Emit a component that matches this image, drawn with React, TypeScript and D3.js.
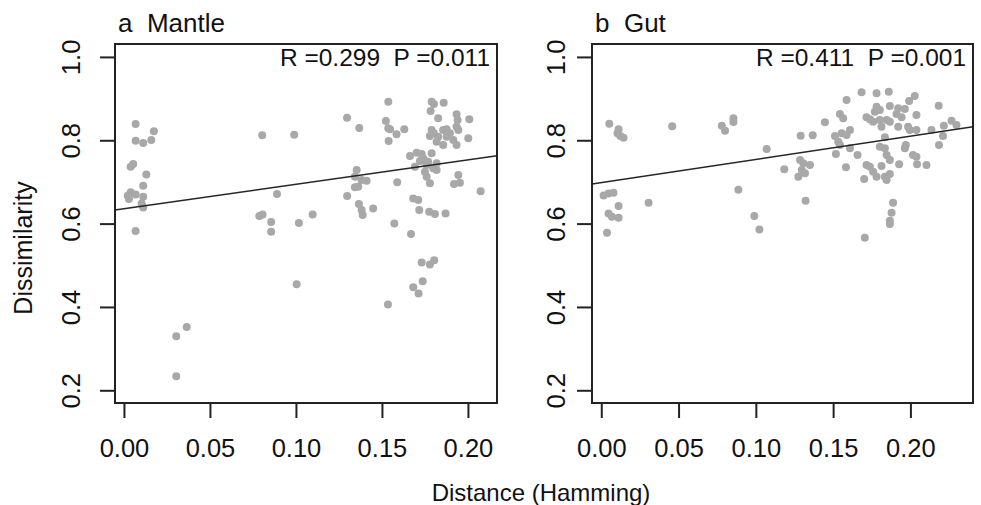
import * as d3 from "d3";
import { useRef, useEffect } from "react";

// axis ticks
const xTicks = [0, 0.05, 0.1, 0.15, 0.2];
const yTicks = [0.2, 0.4, 0.6, 0.8, 1.0];

// panel a: mantle
const mantleDistance = [
  0.0068, 0.0174, 0.0068, 0.0112, 0.0159, 0.0054, 0.0039, 0.013, 0.0112, 0.0039,
  0.0022, 0.0029, 0.0068, 0.0112, 0.0103, 0.0112, 0.0068, 0.0804, 0.099, 0.089,
  0.0787, 0.0806, 0.0856, 0.0856, 0.1017, 0.1004, 0.0304, 0.0365, 0.0304, 0.1537,
  0.1297, 0.1368, 0.1523, 0.1537, 0.1547, 0.1585, 0.163, 0.1539, 0.1789, 0.1802,
  0.1783, 0.1859, 0.1827, 0.1934, 0.194, 0.2008, 0.1789, 0.1802, 0.1779, 0.1827,
  0.1856, 0.1876, 0.1895, 0.1934, 0.1944, 0.1876, 0.1915, 0.1856, 0.1818, 0.1934,
  0.2002, 0.1663, 0.1702, 0.1731, 0.174, 0.1721, 0.175, 0.1769, 0.1789, 0.1818,
  0.176, 0.1692, 0.1798, 0.1818, 0.175, 0.176, 0.1779, 0.1353, 0.1343, 0.1382,
  0.1411, 0.1362, 0.1343, 0.1589, 0.1944, 0.1953, 0.1919, 0.1298, 0.2074, 0.1366,
  0.1382, 0.1388, 0.1449, 0.1682, 0.1711, 0.1717, 0.1775, 0.1808, 0.187, 0.1097,
  0.1572, 0.1669, 0.1731, 0.1779, 0.1804, 0.1737, 0.1682, 0.1713, 0.1535,
];
const mantleDissimilarity = [
  0.839, 0.8215, 0.799, 0.7934, 0.8006, 0.743, 0.7365, 0.718, 0.691, 0.675,
  0.6668, 0.6589, 0.67, 0.6644, 0.6485, 0.6389, 0.582, 0.8119, 0.8133, 0.6709,
  0.618, 0.622, 0.6036, 0.5803, 0.6012, 0.4547, 0.3297, 0.352, 0.2336, 0.8926,
  0.8542, 0.8294, 0.8462, 0.8287, 0.8263, 0.8143, 0.8263, 0.7982, 0.8926, 0.8871,
  0.8703, 0.8902, 0.8527, 0.8623, 0.8486, 0.8503, 0.8246, 0.8167, 0.8102, 0.8085,
  0.8246, 0.8263, 0.8167, 0.8326, 0.8246, 0.8085, 0.8006, 0.7886, 0.7965, 0.7886,
  0.8047, 0.7622, 0.7701, 0.767, 0.7566, 0.7502, 0.7509, 0.7485, 0.7686, 0.7446,
  0.7405, 0.7365, 0.7326, 0.7285, 0.7244, 0.7124, 0.6966, 0.7285, 0.7124, 0.7045,
  0.7028, 0.6884, 0.687, 0.699, 0.7165, 0.698, 0.6949, 0.6661, 0.6774, 0.6468,
  0.6324, 0.6204, 0.6365, 0.6605, 0.6565, 0.6324, 0.6283, 0.6228, 0.6245, 0.6221,
  0.6005, 0.5748, 0.5068, 0.502, 0.5123, 0.4619, 0.4474, 0.4323, 0.4059,
];

// panel b: gut
const gutDistance = [
  0.0052, 0.0112, 0.0105, 0.0123, 0.0144, 0.0459, 0.078, 0.0801, 0.0855, 0.0855,
  0.107, 0.0887, 0.0015, 0.0047, 0.0079, 0.0112, 0.0306, 0.0047, 0.0069, 0.0112,
  0.099, 0.1023, 0.0037, 0.1684, 0.1781, 0.186, 0.1587, 0.2028, 0.1992, 0.2183,
  0.1544, 0.1565, 0.1447, 0.1781, 0.1802, 0.177, 0.1867, 0.1921, 0.1964, 0.191,
  0.1943, 0.1738, 0.1716, 0.1759, 0.1802, 0.1846, 0.1813, 0.1867, 0.1921, 0.1985,
  0.1996, 0.2039, 0.2039, 0.2266, 0.2216, 0.2136, 0.2211, 0.2185, 0.2298, 0.1512,
  0.1555, 0.1609, 0.1587, 0.1533, 0.1544, 0.129, 0.1368, 0.1609, 0.1658, 0.1518,
  0.1835, 0.1802, 0.1835, 0.1846, 0.1867, 0.1927, 0.197, 0.1964, 0.2017, 0.2039,
  0.2104, 0.2043, 0.1716, 0.1738, 0.1759, 0.1813, 0.1781, 0.1701, 0.1835, 0.1846,
  0.1867, 0.1583, 0.1286, 0.1307, 0.135, 0.1297, 0.1318, 0.1275, 0.1184, 0.1322,
  0.1888, 0.1878, 0.1867, 0.1867, 0.1705,
];
const gutDissimilarity = [
  0.8398, 0.8263, 0.8167, 0.8102, 0.8061, 0.8335, 0.835, 0.8229, 0.8527, 0.8438,
  0.779, 0.6812, 0.6677, 0.6725, 0.674, 0.642, 0.65, 0.6245, 0.6163, 0.6139,
  0.618, 0.586, 0.5779, 0.9152, 0.9128, 0.9166, 0.8967, 0.9063, 0.8943, 0.883,
  0.8631, 0.8527, 0.8431, 0.8806, 0.8727, 0.8686, 0.8823, 0.8768, 0.8751, 0.8631,
  0.8551, 0.8503, 0.8551, 0.8446, 0.8486, 0.8486, 0.8326, 0.8446, 0.8326, 0.8326,
  0.8246, 0.8246, 0.8607, 0.847, 0.835, 0.8246, 0.8102, 0.7886, 0.8366, 0.8102,
  0.8167, 0.8246, 0.8126, 0.7965, 0.7886, 0.8109, 0.8119, 0.7807, 0.7646, 0.767,
  0.8071, 0.7845, 0.7807, 0.7646, 0.7526, 0.7422, 0.7886, 0.7807, 0.7646, 0.7605,
  0.7405, 0.7422, 0.7405, 0.7365, 0.7244, 0.7381, 0.7124, 0.7069, 0.7124, 0.7045,
  0.7189, 0.735, 0.7526, 0.7446, 0.7405, 0.7285, 0.7206, 0.7124, 0.7302, 0.6548,
  0.65, 0.626, 0.6067, 0.5988, 0.5659,
];

// regression lines: [intercept, slope]
const mantleFit = [0.6355, 0.588];
const gutFit = [0.6983, 0.5586];

const panelTitles = ["a  Mantle", "b  Gut"];
const statLabels = ["R =0.299  P =0.011", "R =0.411  P =0.001"];
const xLimits = [
  [-0.0052, 0.2169],
  [-0.006, 0.2405],
];
const yLimits = [0.1695, 1.031];

const FONT = "'Liberation Sans', Arial, Helvetica, sans-serif";

export default function App({ width = 981, height = 505 }) {
  const svgRef = useRef(null);

  useEffect(() => {
    const svg = d3.select(svgRef.current);
    svg.selectAll("*").remove();

    const panels = [
      { left: 115, right: 497, labelOffset: 35, xs: mantleDistance, ys: mantleDissimilarity, fit: mantleFit },
      { left: 592, right: 973, labelOffset: 27, xs: gutDistance, ys: gutDissimilarity, fit: gutFit },
    ];
    const top = 44;
    const bottom = 403;

    const yScale = d3.scaleLinear().domain(yLimits).range([bottom, top]);

    panels.forEach((p, i) => {
      const xScale = d3.scaleLinear().domain(xLimits[i]).range([p.left, p.right]);
      const g = svg.append("g").style("font-family", FONT);

      // points
      g.selectAll(".pt")
        .data(p.xs.map((x, j) => [x, p.ys[j]]))
        .join("circle")
        .attr("cx", (d) => xScale(d[0]))
        .attr("cy", (d) => yScale(d[1]))
        .attr("r", 4)
        .attr("fill", "#a8a8a8");

      // fitted line
      const [x0, x1] = xLimits[i];
      g.append("line")
        .attr("x1", xScale(x0))
        .attr("x2", xScale(x1))
        .attr("y1", yScale(p.fit[0] + p.fit[1] * x0))
        .attr("y2", yScale(p.fit[0] + p.fit[1] * x1))
        .attr("stroke", "#262626")
        .attr("stroke-width", 1.5);

      // box
      g.append("rect")
        .attr("x", p.left)
        .attr("y", top)
        .attr("width", p.right - p.left)
        .attr("height", bottom - top)
        .attr("fill", "none")
        .attr("stroke", "#222")
        .attr("stroke-width", 2);

      // x axis
      const xAxis = g.append("g").attr("transform", `translate(0,${bottom})`);
      xAxis.call(d3.axisBottom(xScale).tickValues(xTicks).tickSize(15).tickFormat(d3.format(".2f")));
      xAxis.select(".domain").remove();
      xAxis.selectAll("line").attr("stroke", "#222").attr("stroke-width", 2);
      xAxis.selectAll("text")
        .attr("y", 54)
        .attr("dy", null)
        .attr("fill", "#111")
        .style("font-family", FONT)
        .style("font-size", "25.5px");

      // y axis
      const yAxis = g.append("g").attr("transform", `translate(${p.left},0)`);
      yAxis.call(d3.axisLeft(yScale).tickValues(yTicks).tickSize(15).tickFormat(d3.format(".1f")));
      yAxis.select(".domain").remove();
      yAxis.selectAll("line").attr("stroke", "#222").attr("stroke-width", 2);
      yAxis.selectAll("text")
        .attr("x", null)
        .attr("dy", null)
        .attr("transform", `translate(${-p.labelOffset},0) rotate(-90)`)
        .attr("text-anchor", "middle")
        .attr("fill", "#111")
        .style("font-family", FONT)
        .style("font-size", "25.5px");

      // title
      g.append("text")
        .attr("x", p.left + 3)
        .attr("y", 32)
        .attr("fill", "#111")
        .style("font-size", "26px")
        .style("white-space", "pre")
        .text(panelTitles[i]);

      // statistics
      g.append("text")
        .attr("x", p.right - 7)
        .attr("y", 66)
        .attr("text-anchor", "end")
        .attr("fill", "#111")
        .attr("textLength", 210)
        .attr("lengthAdjust", "spacingAndGlyphs")
        .style("font-size", "24px")
        .style("white-space", "pre")
        .text(statLabels[i]);
    });

    // axis titles
    svg.append("text")
      .attr("transform", "translate(32,248) rotate(-90)")
      .attr("text-anchor", "middle")
      .attr("fill", "#111")
      .style("font-family", FONT)
      .style("font-size", "25px")
      .text("Dissimilarity");

    svg.append("text")
      .attr("x", 541)
      .attr("y", 501)
      .attr("text-anchor", "middle")
      .attr("fill", "#111")
      .style("font-family", FONT)
      .style("font-size", "24px")
      .text("Distance (Hamming)");
  }, [width, height]);

  return (
    <svg
      ref={svgRef}
      width={width}
      height={height}
      style={{ position: "absolute", left: 0, top: 0, background: "#fff" }}
    ></svg>
  );
}
